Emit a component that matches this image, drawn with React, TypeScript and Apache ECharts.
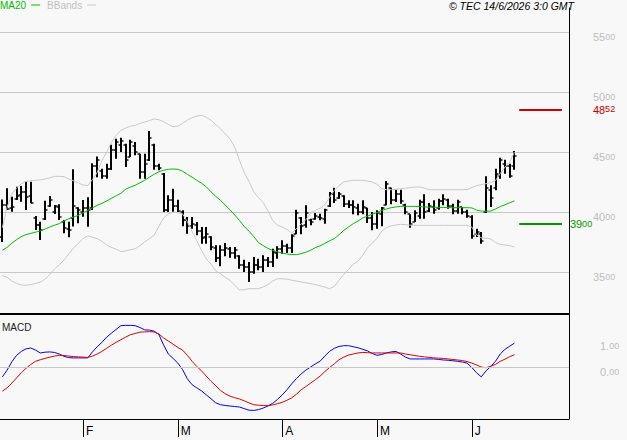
import React, { useEffect, useRef } from 'react';
import * as echarts from 'echarts';

const dates = [
  '2026-01-08','2026-01-09','2026-01-12','2026-01-13','2026-01-14','2026-01-15','2026-01-16','2026-01-19','2026-01-20','2026-01-21','2026-01-22','2026-01-23','2026-01-26','2026-01-27','2026-01-28','2026-01-29','2026-01-30',
  '2026-02-02','2026-02-03','2026-02-04','2026-02-05','2026-02-06','2026-02-09','2026-02-10','2026-02-11','2026-02-12','2026-02-13','2026-02-16','2026-02-17','2026-02-18','2026-02-19','2026-02-20','2026-02-23','2026-02-24','2026-02-25','2026-02-26','2026-02-27',
  '2026-03-02','2026-03-03','2026-03-04','2026-03-05','2026-03-06','2026-03-09','2026-03-10','2026-03-11','2026-03-12','2026-03-13','2026-03-16','2026-03-17','2026-03-18','2026-03-19','2026-03-20','2026-03-23','2026-03-24','2026-03-25','2026-03-26','2026-03-27','2026-03-30','2026-03-31',
  '2026-04-01','2026-04-02','2026-04-07','2026-04-08','2026-04-09','2026-04-10','2026-04-13','2026-04-14','2026-04-15','2026-04-16','2026-04-17','2026-04-20','2026-04-21','2026-04-22','2026-04-23','2026-04-24','2026-04-27','2026-04-28','2026-04-29','2026-04-30',
  '2026-05-04','2026-05-05','2026-05-06','2026-05-07','2026-05-08','2026-05-11','2026-05-12','2026-05-13','2026-05-14','2026-05-15','2026-05-18','2026-05-19','2026-05-20','2026-05-21','2026-05-22','2026-05-25','2026-05-26','2026-05-27','2026-05-28','2026-05-29',
  '2026-06-01','2026-06-02','2026-06-03','2026-06-04','2026-06-05','2026-06-08','2026-06-09','2026-06-10','2026-06-11','2026-06-12',
  '2026-06-15','2026-06-16','2026-06-17','2026-06-18','2026-06-19','2026-06-22','2026-06-23','2026-06-24','2026-06-25','2026-06-26','2026-06-29',
];

const monthStarts = ['2026-02-02', '2026-03-02', '2026-04-01', '2026-05-04', '2026-06-01'];
const monthLetters = ['F', 'M', 'A', 'M', 'J'];

const open = [3790,4060,4030,4110,4140,4170,4130,3950,3890,3940, 4050,4000,4040,3920,3860,3950,4030,4000,4030,4030,
  4380,4340,4300,4360,4520,4560,4560,4460,4550,4480, 4330,4430,4560,4380,4320,4020,4100,4050,4000,3930,
  3880,3890,3840,3790,3790,3700,3620,3680,3690,3660, 3630,3560,3540,3500,3560,3540,3600,3580,3660,3690,
  3720,3700,3820,3950,3890,3930,3940,3960,3940,4050, 4150,4120,4130,4070,4060,4030,4000,4030,3950,3900,
  3980,4060,4200,4100,4150,4060,3980,3920,3970,4080, 4010,4040,4030,4090,4100,4050,4010,4040,4000,3960,
  3820,3820,4000,4180,4200,4300,4400,4380,4380];
const high = [4105,4197,4128,4211,4217,4253,4253,3967,3919,4094, 4133,4058,4064,3933,3919,4356,4039,4100,4122,4406,
  4462,4361,4403,4560,4611,4619,4569,4603,4583,4486, 4486,4675,4569,4403,4325,4139,4194,4103,4014,3958,
  3958,3917,3875,3875,3797,3722,3722,3742,3708,3708, 3639,3603,3583,3625,3611,3639,3625,3694,3714,3764,
  3736,3814,4019,3958,4056,3944,3992,3986,4028,4167, 4203,4167,4139,4097,4097,4069,4097,4036,4000,4014,
  4042,4258,4203,4186,4186,4069,3981,4014,4103,4147, 4075,4097,4111,4147,4111,4069,4103,4042,4019,3972,
  3861,3833,4297,4222,4361,4453,4436,4403,4508];
const low = [3750,4017,4003,4100,4086,4017,4072,3850,3767,3933, 4044,3983,3933,3822,3789,3880,3906,3961,3878,4017,
  4290,4278,4278,4350,4444,4500,4375,4458,4472,4278, 4278,4425,4353,4347,4000,4000,4000,4000,3881,3819,
  3861,3806,3736,3736,3681,3583,3547,3631,3619,3611, 3528,3500,3417,3486,3514,3500,3542,3542,3611,3653,
  3658,3658,3814,3814,3869,3889,3936,3931,3903,4042, 4075,4111,4042,4033,3981,3972,3981,3908,3847,3861,
  3881,4056,4064,4083,4069,3981,3869,3917,3944,3944, 4000,3986,4019,4056,4028,3981,3986,3981,3953,3778,
  3792,3736,3992,4042,4181,4278,4319,4286,4353];
const close = [4060,4022,4040,4133,4169,4128,4072,3892,3850,4017, 4100,4050,3960,3864,3850,4050,4017,4031,4017,4380,
  4430,4300,4360,4520,4580,4590,4430,4580,4500,4330, 4400,4620,4380,4370,4020,4100,4050,4010,3930,3880,
  3900,3840,3780,3820,3710,3620,3680,3700,3660,3680, 3560,3540,3500,3560,3540,3600,3580,3670,3690,3720,
  3700,3800,3990,3880,3990,3920,3970,3950,4020,4150, 4100,4150,4070,4060,4040,4000,4040,3950,3900,3990,
  4030,4230,4100,4150,4090,4000,3900,3990,4080,4000, 4050,4020,4090,4110,4050,4010,4080,4000,3970,3800,
  3830,3760,4200,4120,4320,4430,4380,4300,4470];

const ma20 = [3681,3705,3740,3770,3795,3812,3822,3832,3842,3858, 3875,3890,3903,3925,3944,3958,3972,3993,4012,4035,
  4056,4072,4092,4115,4135,4155,4190,4208,4222,4243, 4264,4290,4314,4335,4348,4356,4358,4356,4340,4314,
  4290,4264,4240,4210,4168,4130,4097,4058,4019,3975, 3930,3880,3840,3797,3745,3720,3697,3680,3668,3658,
  3650,3645,3645,3652,3665,3681,3703,3718,3738,3760, 3778,3810,3847,3875,3903,3925,3950,3966,3981,3995,
  4014,4025,4036,4042,4047,4047,4047,4047,4045,4042, 4040,4040,4039,4038,4037,4036,4036,4036,4036,4034,
  4016,4008,4006,4008,4025,4045,4061,4077,4092];
const bbUpper = [3869,4040,4150,4200,4235,4255,4260,4264,4268,4275, 4285,4297,4297,4295,4275,4260,4242,4225,4220,4270,
  4330,4430,4500,4580,4640,4680,4700,4715,4722,4738, 4750,4762,4775,4770,4752,4730,4710,4715,4738,4765,
  4786,4800,4806,4790,4764,4730,4694,4650,4611,4540, 4430,4330,4255,4170,4120,4080,4010,3930,3890,3875,
  3855,3825,3860,3900,3935,3990,4015,4030,4060,4120, 4181,4220,4250,4258,4264,4264,4264,4258,4250,4230,
  4195,4186,4186,4190,4194,4198,4203,4208,4208,4200, 4186,4186,4186,4186,4186,4186,4186,4186,4186,4203,
  4220,4228,4236,4245,4262,4320,4375,4417,4500];
const bbLower = [3470,3455,3425,3405,3392,3390,3395,3405,3415,3440, 3480,3525,3560,3600,3650,3700,3736,3780,3800,3790,
  3778,3755,3725,3705,3690,3670,3675,3685,3694,3720, 3750,3778,3806,3880,3950,3985,4000,3995,3985,3920,
  3840,3760,3680,3610,3565,3510,3486,3455,3431,3390, 3350,3352,3361,3361,3361,3375,3395,3425,3444,3444,
  3440,3432,3425,3417,3410,3403,3395,3385,3375,3361, 3380,3430,3480,3520,3565,3590,3640,3700,3740,3780,
  3840,3870,3885,3892,3897,3895,3890,3889,3889,3889, 3889,3889,3889,3889,3889,3889,3889,3889,3889,3875,
  3810,3785,3780,3776,3745,3730,3725,3720,3708];

const macdLine = [-0.38,-0.12,0.20,0.45,0.60,0.70,0.73,0.65,0.54,0.57, 0.58,0.56,0.50,0.41,0.36,0.35,0.35,0.35,0.35,0.58,
  0.78,0.95,1.15,1.30,1.45,1.59,1.60,1.60,1.59,1.52, 1.43,1.42,1.38,1.25,0.85,0.50,0.33,0.15,-0.10,-0.45,
  -0.68,-0.80,-0.92,-1.07,-1.22,-1.38,-1.45,-1.48,-1.50,-1.52, -1.54,-1.60,-1.66,-1.67,-1.64,-1.58,-1.50,-1.40,-1.25,-1.08,
  -0.88,-0.65,-0.45,-0.27,-0.12,0.00,0.12,0.22,0.42,0.60, 0.72,0.79,0.82,0.82,0.78,0.74,0.68,0.62,0.52,0.45,
  0.48,0.54,0.58,0.60,0.50,0.38,0.31,0.31,0.31,0.31, 0.31,0.31,0.29,0.27,0.26,0.24,0.22,0.19,0.15,-0.02,
  -0.22,-0.38,-0.15,0.02,0.22,0.50,0.68,0.80,0.92];
const signalLine = [-0.93,-0.80,-0.62,-0.42,-0.22,-0.05,0.10,0.22,0.28,0.33, 0.38,0.42,0.45,0.44,0.42,0.40,0.39,0.38,0.37,0.42,
  0.50,0.60,0.72,0.84,0.95,1.05,1.15,1.24,1.29,1.34, 1.35,1.36,1.35,1.27,1.12,1.00,0.88,0.75,0.65,0.45,
  0.22,0.02,-0.15,-0.35,-0.55,-0.72,-0.90,-1.03,-1.12,-1.18, -1.23,-1.30,-1.38,-1.45,-1.47,-1.48,-1.49,-1.46,-1.41,-1.36,
  -1.28,-1.19,-1.05,-0.88,-0.75,-0.62,-0.49,-0.35,-0.18,-0.02, 0.12,0.28,0.38,0.46,0.50,0.54,0.56,0.55,0.54,0.54,
  0.54,0.54,0.54,0.54,0.54,0.50,0.47,0.44,0.41,0.39, 0.37,0.35,0.34,0.33,0.31,0.29,0.27,0.25,0.21,0.15,
  0.08,0.00,-0.03,0.03,0.10,0.22,0.30,0.40,0.47];

const resistance = 4852;
const support = 3900;
const levelStart = 109;
const levelEnd = 118;

const FONT = '"Liberation Sans", Arial, sans-serif';
const GRAY_TXT = '#bdbdbd';

const splitRich = (color: string) => ({
  big: { fontSize: 11, color, fontFamily: FONT, lineHeight: 10 },
  small: { fontSize: 9, color, fontFamily: FONT, lineHeight: 8, verticalAlign: 'top' },
});

export default function App() {
  const ref = useRef<HTMLDivElement>(null);

  useEffect(() => {
    if (!ref.current) return;
    const chart = echarts.init(ref.current, null, { renderer: 'svg' });
    const ohlc = close.map((c, i) => [i, open[i], high[i], low[i], c]);
    const isMonthStart = (_i: number, v: string) => monthStarts.indexOf(v) >= 0;

    const levelLabel = (value: number, color: string, distance: number) => ({
      show: true,
      position: 'end',
      distance,
      formatter: () => {
        const s = String(value);
        return `{big|${s.slice(0, 2)}}{small|${s.slice(2)}}`;
      },
      rich: splitRich(color),
    });

    const option: any = {
      animation: false,
      backgroundColor: '#f8f8f8',
      textStyle: { fontFamily: FONT },
      title: [
        {
          text: '© TEC 14/6/2026 3:0 GMT',
          right: 53,
          top: 0,
          padding: 0,
          textStyle: { fontSize: 10.5, fontStyle: 'italic', fontWeight: 'normal', color: '#000', fontFamily: FONT },
        },
        {
          text: 'MACD',
          left: 2,
          top: 322,
          padding: 0,
          textStyle: { fontSize: 10, fontWeight: 'normal', color: '#222', fontFamily: FONT },
        },
      ],
      legend: {
        left: 0,
        top: 0,
        padding: 0,
        align: 'right',
        icon: 'rect',
        itemWidth: 9,
        itemHeight: 1,
        itemGap: 7,
        selectedMode: false,
        textStyle: { fontSize: 10, fontFamily: FONT },
        data: [
          { name: 'MA20', textStyle: { color: '#00c000' } },
          { name: 'BBands', textStyle: { color: '#c0c0c0' } },
        ],
      },
      grid: [
        { left: 0, right: 58, top: 8, height: 306 },
        { left: 0, right: 58, top: 315, height: 104 },
      ],
      xAxis: [
        {
          type: 'category',
          gridIndex: 0,
          data: dates,
          axisLine: { show: true, onZero: false, lineStyle: { color: '#000', width: 2 } },
          axisTick: { show: false },
          axisLabel: { show: false },
          splitLine: { show: false },
        },
        {
          type: 'category',
          gridIndex: 1,
          data: dates,
          axisLine: { show: true, onZero: false, lineStyle: { color: '#000', width: 1 } },
          axisTick: { show: true, alignWithLabel: true, interval: isMonthStart, length: 18, lineStyle: { color: '#000' } },
          axisLabel: {
            interval: isMonthStart,
            formatter: (v: string) => {
              const k = monthStarts.indexOf(v);
              return k >= 0 ? monthLetters[k] : '';
            },
            align: 'left',
            padding: [0, 0, 0, 3],
            margin: 6,
            fontSize: 12,
            color: '#000',
          },
          splitLine: { show: false },
        },
      ],
      yAxis: [
        {
          type: 'value',
          gridIndex: 0,
          position: 'right',
          min: 3150,
          max: 5700,
          minInterval: 500,
          maxInterval: 500,
          axisLine: { show: true, lineStyle: { color: '#000', width: 1 } },
          axisTick: { show: false },
          splitLine: { show: true, showMinLine: false, showMaxLine: false, lineStyle: { color: '#c8c8c8', width: 1 } },
          axisLabel: {
            showMinLabel: false,
            showMaxLabel: false,
            margin: 24,
            verticalAlign: 'top',
            formatter: (v: number) => {
              const s = String(v);
              return `{big|${s.slice(0, 2)}}{small|${s.slice(2)}}`;
            },
            rich: splitRich(GRAY_TXT),
          },
        },
        {
          type: 'value',
          gridIndex: 1,
          position: 'right',
          min: -2,
          max: 2,
          minInterval: 1,
          maxInterval: 1,
          axisLine: { show: true, lineStyle: { color: '#000', width: 1 } },
          axisTick: { show: false },
          splitLine: { show: false },
          axisLabel: {
            showMinLabel: false,
            showMaxLabel: false,
            margin: 31,
            verticalAlign: 'top',
            formatter: (v: number) => (v === 0 || v === 1 ? `{big|${v}.}{small|00}` : ''),
            rich: splitRich(GRAY_TXT),
          },
        },
      ],
      series: [
        {
          name: 'BBands',
          type: 'line',
          xAxisIndex: 0,
          yAxisIndex: 0,
          data: bbUpper,
          symbol: 'none',
          lineStyle: { color: '#c8c8c8', width: 1 },
          itemStyle: { color: '#c8c8c8' },
        },
        {
          name: 'BBands',
          type: 'line',
          xAxisIndex: 0,
          yAxisIndex: 0,
          data: bbLower,
          symbol: 'none',
          lineStyle: { color: '#c8c8c8', width: 1 },
          itemStyle: { color: '#c8c8c8' },
        },
        {
          name: 'OHLC',
          type: 'custom',
          xAxisIndex: 0,
          yAxisIndex: 0,
          data: ohlc,
          encode: { x: 0, y: [1, 2, 3, 4] },
          renderItem: (_params: any, api: any) => {
            const i = api.value(0);
            const pH = api.coord([i, api.value(2)]);
            const pL = api.coord([i, api.value(3)]);
            const pO = api.coord([i, api.value(1)]);
            const pC = api.coord([i, api.value(4)]);
            const x = Math.round(pH[0]);
            const st = { stroke: '#000', lineWidth: 1.4 };
            return {
              type: 'group',
              children: [
                { type: 'line', shape: { x1: x, y1: pH[1], x2: x, y2: pL[1] }, style: { stroke: '#000', lineWidth: 2 } },
                { type: 'line', shape: { x1: x - 2.5, y1: Math.round(pO[1]), x2: x, y2: Math.round(pO[1]) }, style: st },
                { type: 'line', shape: { x1: x, y1: Math.round(pC[1]), x2: x + 2.5, y2: Math.round(pC[1]) }, style: st },
              ],
            };
          },
        },
        {
          name: 'MA20',
          type: 'line',
          xAxisIndex: 0,
          yAxisIndex: 0,
          data: ma20,
          symbol: 'none',
          clip: false,
          lineStyle: { color: '#00c000', width: 1 },
          itemStyle: { color: '#00c000' },
          markLine: {
            silent: true,
            symbol: ['none', 'none'],
            data: [
              [
                {
                  coord: [dates[levelStart], resistance],
                  lineStyle: { color: '#cc0000', width: 2, type: 'solid' },
                  label: levelLabel(resistance, '#cc0000', 31),
                },
                { coord: [dates[levelEnd], resistance] },
              ],
              [
                {
                  coord: [dates[levelStart], support],
                  lineStyle: { color: '#009900', width: 2, type: 'solid' },
                  label: levelLabel(support, '#009900', 8),
                },
                { coord: [dates[levelEnd], support] },
              ],
            ],
          },
        },
        {
          name: 'MACD',
          type: 'line',
          xAxisIndex: 1,
          yAxisIndex: 1,
          data: macdLine,
          symbol: 'none',
          lineStyle: { color: '#0000ee', width: 1 },
          itemStyle: { color: '#0000ee' },
          markLine: {
            silent: true,
            symbol: ['none', 'none'],
            label: { show: false },
            lineStyle: { color: '#c8c8c8', type: 'solid', width: 1 },
            data: [{ yAxis: 0 }],
          },
        },
        {
          name: 'Signal',
          type: 'line',
          xAxisIndex: 1,
          yAxisIndex: 1,
          data: signalLine,
          symbol: 'none',
          lineStyle: { color: '#dd0000', width: 1 },
          itemStyle: { color: '#dd0000' },
        },
      ],
    };

    chart.setOption(option);
    return () => chart.dispose();
  }, []);

  return (
    <div
      ref={ref}
      style={{ position: 'fixed', left: 0, top: 0, width: 627, height: 440 }}
    />
  );
}
